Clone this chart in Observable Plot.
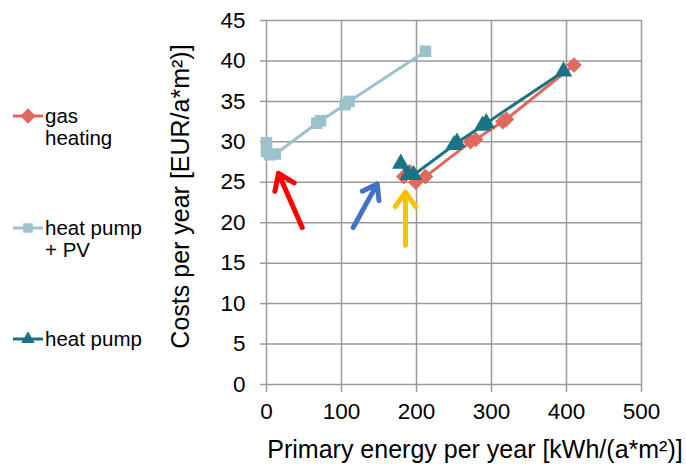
<!DOCTYPE html>
<html><head><meta charset="utf-8">
<script src="https://cdn.jsdelivr.net/npm/d3@7"></script>
<script src="https://cdn.jsdelivr.net/npm/@observablehq/plot@0.6"></script>
<style>
body{margin:0;background:#fff;font-family:"Liberation Sans",Arial,sans-serif;}
#wrap{position:relative;width:686px;height:464px;overflow:hidden;}
#legend{position:absolute;left:0;top:0;width:170px;height:464px;}
.item{position:absolute;left:13px;font-size:20.5px;line-height:22px;color:#000;}
.item svg{position:absolute;left:0;top:0;}
.item span{position:absolute;left:32px;top:0;white-space:nowrap;}
</style>
</head><body>
<div id="wrap"><div id="chart"></div><div id="legend"></div></div>
<script>
// Gas heating
const gasX = [410, 320, 315, 279, 272, 212, 199, 191, 183];
const gasY = [39.5, 32.8, 32.5, 30.3, 30.0, 25.7, 25.0, 26.3, 25.7];
// Heat pump + PV
const pvX = [212, 110, 105, 72, 67, 12, 4, 0, 0];
const pvY = [41.2, 35.0, 34.6, 32.6, 32.3, 28.5, 28.4, 28.8, 29.9];
// Heat pump
const hpX = [396, 293, 288, 254, 250, 196, 189, 179];
const hpY = [38.7, 32.3, 32.0, 29.9, 29.6, 25.9, 25.9, 27.3];

// annotation arrows (data coordinates)
const arrowX1 = [47.6, 115.6, 185.3];
const arrowY1 = [19.4, 19.4, 17.2];
const arrowX2 = [16.0, 147.6, 185.3];
const arrowY2 = [26.1, 24.8, 23.8];
const arrowColors = ["#FF0000", "#4472C4", "#FFC000"];

const xTicks = [0, 100, 200, 300, 400, 500];
const yTicks = [0, 5, 10, 15, 20, 25, 30, 35, 40, 45];

const seriesNames = ["gas heating", "heat pump + PV", "heat pump"];
const seriesColors = ["#E2685D", "#9CC3CC", "#197486"];
const seriesSymbols = ["diamond2", "square", "triangle"];

const xTitle = "Primary energy per year [kWh/(a*m²)]";
const yTitle = "Costs per year [EUR/a*m²)]";

const toRows = (xs, ys) => xs.map((x, i) => ({x, y: ys[i]}));
const gas = toRows(gasX, gasY);
const pv = toRows(pvX, pvY);
const hp = toRows(hpX, hpY);
const arrows = arrowX1.map((x1, i) => ({x1, y1: arrowY1[i], x2: arrowX2[i], y2: arrowY2[i], c: arrowColors[i]}));

const gridColor = "#9a9a9a";
const font = "Liberation Sans, Arial, sans-serif";

const chart = Plot.plot({
  width: 686,
  height: 464,
  marginLeft: 266,
  marginRight: 45,
  marginTop: 20,
  marginBottom: 80,
  style: {fontFamily: font, fontSize: "22px", color: "#000", background: "#fff"},
  x: {domain: [0, 500], ticks: xTicks},
  y: {domain: [0, 45], ticks: yTicks},
  marks: [
    Plot.gridX(xTicks, {stroke: gridColor, strokeOpacity: 1, strokeWidth: 1.5}),
    Plot.gridY(yTicks, {stroke: gridColor, strokeOpacity: 1, strokeWidth: 1.5}),
    Plot.axisX(xTicks, {tickSize: 8, tickPadding: 11, stroke: gridColor, strokeWidth: 1.5, fontSize: 22.5, label: null, fill: "#000"}),
    Plot.axisY(yTicks, {tickSize: 6, tickPadding: 15, stroke: gridColor, strokeWidth: 1.5, fontSize: 22.5, label: null, fill: "#000"}),
    Plot.line(pv, {x: "x", y: "y", stroke: seriesColors[1], strokeWidth: 3}),
    Plot.dot(pv, {x: "x", y: "y", symbol: "square", r: 6.5, fill: seriesColors[1], stroke: "none"}),
    Plot.line(gas, {x: "x", y: "y", stroke: seriesColors[0], strokeWidth: 3}),
    Plot.dot(gas, {x: "x", y: "y", symbol: "diamond2", r: 7, fill: seriesColors[0], stroke: "none"}),
    Plot.line(hp, {x: "x", y: "y", stroke: seriesColors[2], strokeWidth: 3}),
    Plot.dot(hp, {x: "x", y: "y", symbol: "triangle", r: 6.5, fill: seriesColors[2], stroke: "none"}),
    Plot.arrow(arrows, {x1: "x1", y1: "y1", x2: "x2", y2: "y2", stroke: "c", strokeWidth: 5, headLength: 5.5, headAngle: 70}),
    Plot.text([xTitle], {frameAnchor: "bottom", dx: 21, dy: 65, lineAnchor: "middle", textAnchor: "middle", fontSize: 25, fill: "#000"}),
    Plot.text([yTitle], {frameAnchor: "left", rotate: -90, dx: -86, dy: -6, lineAnchor: "middle", textAnchor: "middle", fontSize: 25, fill: "#000"})
  ]
});
document.getElementById("chart").appendChild(chart);

// Legend
const legend = document.getElementById("legend");
const legendLines = [["gas", "heating"], ["heat pump", "+ PV"], ["heat pump"]];
const legendTops = [105, 217, 328];
const symTypes = {diamond2: d3.symbolDiamond2, square: d3.symbolSquare, triangle: d3.symbolTriangle};
const symSizes = [150, 90, 80];
seriesNames.forEach((name, i) => {
  const div = document.createElement("div");
  div.className = "item";
  div.style.top = legendTops[i] + "px";
  const sym = d3.symbol().type(symTypes[seriesSymbols[i]]).size(symSizes[i])();
  div.innerHTML = `<svg width="32" height="22"><line x1="0" x2="30" y1="11" y2="11" stroke="${seriesColors[i]}" stroke-width="3"/><path transform="translate(15,11)" d="${sym}" fill="${seriesColors[i]}"/></svg><span>${legendLines[i].join("<br>")}</span>`;
  legend.appendChild(div);
});
</script>
</body></html>
